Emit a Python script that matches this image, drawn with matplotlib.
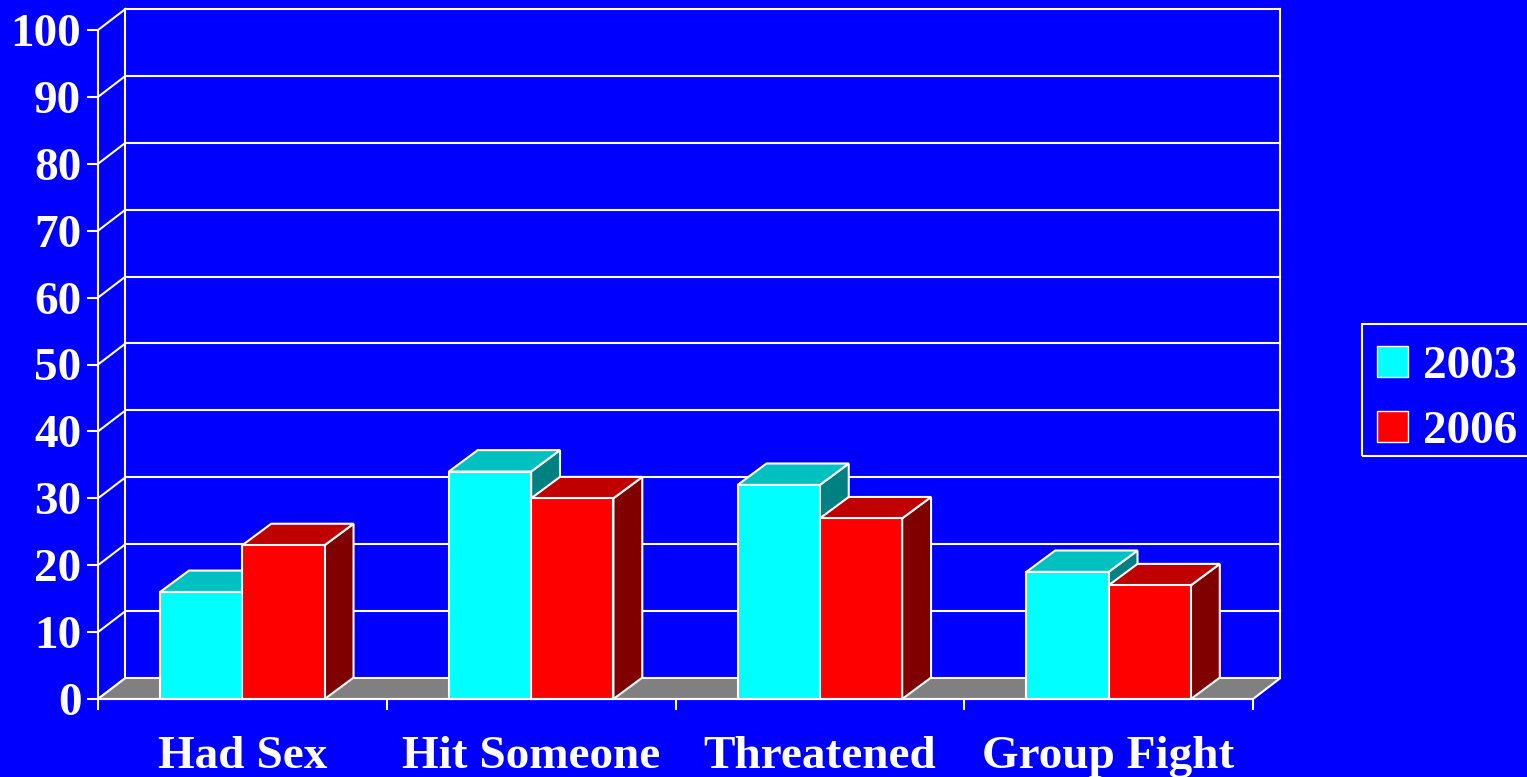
import matplotlib
matplotlib.use('Agg')
import matplotlib.pyplot as plt
from matplotlib.patches import Polygon, Rectangle, Patch

# -------------------------------------------------------
# data
categories = ['Had Sex', 'Hit Someone', 'Threatened', 'Group Fight']
years      = ['2003', '2006']
vals_2003  = [16, 34, 32, 19]
vals_2006  = [23, 30, 27, 17]
y_ticks    = list(range(0, 101, 10))
# -------------------------------------------------------
BLUE   = '#0000FF'
WHITE  = 'white'
# front, top, side shades for each year
shades = {
    '2003' : ('#00FFFF', '#00C0C0', '#008080'),
    '2006' : ('#FF0000', '#C00000', '#800000'),
}

plt.rcParams['font.family'] = ['Liberation Serif', 'DejaVu Serif']
plt.rcParams['font.weight'] = 'bold'

W, H = 1527, 777
fig  = plt.figure(figsize=(W / 100, H / 100), dpi=100, facecolor=BLUE)
ax   = fig.add_axes([98 / W, 78 / H, 1155 / W, 669 / H])
ax.set_facecolor('none')
ax.set_xlim(0, len(categories))
ax.set_ylim(0, 100)

ncat     = len(categories)
wdx, wdy = 0.095, 3.14   # depth of the walls, data units
bdx, bdy = 0.100, 3.20   # depth of the bars
bw       = 0.285         # width of one bar
lw       = 1.5

# back wall and its gridlines
for v in y_ticks[1:]:
    ax.plot([wdx, ncat + wdx], [v + wdy, v + wdy], color=WHITE, lw=lw, clip_on=False, zorder=1)
for x in [wdx, ncat + wdx]:
    ax.plot([x, x], [wdy, 100 + wdy], color=WHITE, lw=lw, clip_on=False, zorder=1)
# left side wall diagonals
for v in y_ticks:
    ax.plot([0, wdx], [v, v + wdy], color=WHITE, lw=lw, clip_on=False, zorder=1)

# floor
floor = Polygon([(0, 0), (ncat, 0), (ncat + wdx, wdy), (wdx, wdy)],
                closed=True, fc='#808080', ec=WHITE, lw=lw, clip_on=False, zorder=2)
ax.add_patch(floor)

# bars
series = {'2003' : vals_2003, '2006' : vals_2006}
z = 3
for i in range(ncat):
    for j, year in enumerate(years):
        h  = series[year][i]
        x0 = i + 0.5 - bw + j * bw
        fc_front, fc_top, fc_side = shades[year]
        side  = Polygon([(x0 + bw, 0), (x0 + bw + bdx, bdy), (x0 + bw + bdx, h + bdy), (x0 + bw, h)],
                        closed=True, fc=fc_side, ec=WHITE, lw=lw, joinstyle='miter', zorder=z)
        top   = Polygon([(x0, h), (x0 + bw, h), (x0 + bw + bdx, h + bdy), (x0 + bdx, h + bdy)],
                        closed=True, fc=fc_top, ec=WHITE, lw=lw, joinstyle='miter', zorder=z)
        front = Rectangle((x0, 0), bw, h, fc=fc_front, ec=WHITE, lw=lw, joinstyle='miter', zorder=z)
        for p in (side, top, front):
            p.set_clip_on(False)
            ax.add_patch(p)
        z += 1

# axes, ticks and labels
for s in ['top', 'right']:
    ax.spines[s].set_visible(False)
for s in ['left', 'bottom']:
    ax.spines[s].set_color(WHITE)
    ax.spines[s].set_linewidth(lw)
    ax.spines[s].set_zorder(20)

ax.set_yticks(y_ticks)
ax.set_yticklabels([str(v) for v in y_ticks])
ax.tick_params(axis='y', direction='out', length=8, width=lw, color=WHITE,
               labelcolor=WHITE, labelsize=34, pad=4)

ax.set_xticks(range(ncat + 1))
ax.set_xticklabels([''] * (ncat + 1))
ax.set_xticks([i + 0.5 for i in range(ncat)], minor=True)
ax.set_xticklabels(categories, minor=True)
ax.tick_params(axis='x', which='major', direction='out', length=8, width=lw, color=WHITE)
ax.tick_params(axis='x', which='minor', length=0, labelcolor=WHITE, labelsize=34, pad=27)

# legend: entries without frame, frame drawn as a plain box
handles = [Patch(fc=shades[y][0], ec=WHITE, lw=1) for y in years]
leg = ax.legend(handles, years, loc='upper left',
                bbox_to_anchor=(1360 / W, 1 - 329 / H), bbox_transform=fig.transFigure,
                frameon=False, labelcolor=WHITE,
                prop={'family' : 'Liberation Serif', 'weight' : 'bold', 'size' : 34},
                handlelength=0.66, handleheight=0.64, handletextpad=0.32,
                borderpad=0.35, labelspacing=0.49, borderaxespad=0)
box = Rectangle((1362 / W, 1 - 456 / H), 170 / W, 132 / H, transform=fig.transFigure,
                fc='none', ec=WHITE, lw=lw)
fig.patches.append(box)

fig.savefig('out.png', dpi=100, facecolor=BLUE)
